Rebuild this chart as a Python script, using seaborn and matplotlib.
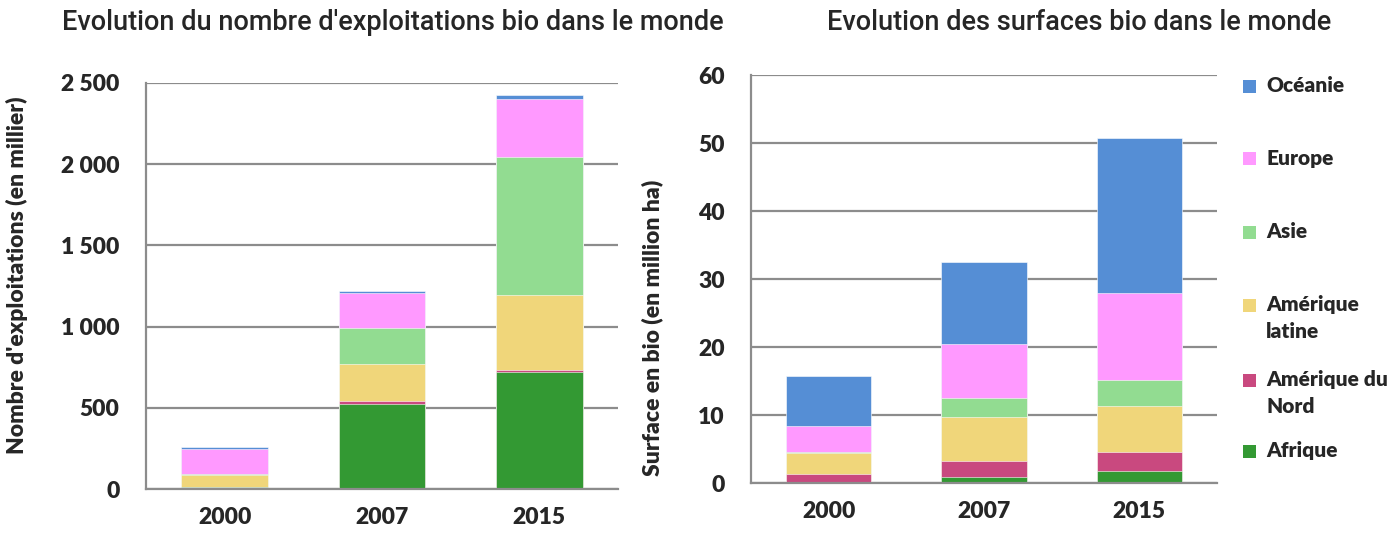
import numpy as np
import pandas as pd
import matplotlib
matplotlib.use("Agg")
import matplotlib.pyplot as plt
import matplotlib.patches as mpatches
import seaborn as sns
from matplotlib.ticker import FuncFormatter

# Data
years = ['2000', '2007', '2015']
regions = ['Afrique', 'Amérique du Nord', 'Amérique latine', 'Asie', 'Europe', 'Océanie']
legend_labels = {'Afrique': 'Afrique', 'Amérique du Nord': 'Amérique du\nNord',
                 'Amérique latine': 'Amérique\nlatine', 'Asie': 'Asie',
                 'Europe': 'Europe', 'Océanie': 'Océanie'}

# number of farms (thousands)
farms_afrique = [12, 521, 722]
farms_am_nord = [1, 20, 10]
farms_am_latine = [72, 228, 463]
farms_asie = [8, 222, 848]
farms_europe = [156, 214, 356]
farms_oceanie = [12, 12, 25]

# organic surfaces (million ha)
surf_afrique = [0.1, 0.9, 1.7]
surf_am_nord = [1.2, 2.3, 2.8]
surf_am_latine = [3.1, 6.5, 6.8]
surf_asie = [0.1, 2.8, 3.9]
surf_europe = [3.9, 7.9, 12.7]
surf_oceanie = [7.4, 12.1, 22.8]

colors = {'Océanie': '#558ED5', 'Europe': '#FF99FF', 'Asie': '#92DC91',
          'Amérique latine': '#F0D67A', 'Amérique du Nord': '#C9497F',
          'Afrique': '#339933'}

farms = [farms_afrique, farms_am_nord, farms_am_latine, farms_asie, farms_europe, farms_oceanie]
surfs = [surf_afrique, surf_am_nord, surf_am_latine, surf_asie, surf_europe, surf_oceanie]


def stacked_frame(series):
    df = pd.DataFrame(np.array(series).T, columns=regions)
    cum = df[regions].cumsum(axis=1)
    cum['Année'] = years
    return cum


sns.set_style("white")
plt.rcParams['font.family'] = ['Lato', 'DejaVu Sans']

W, H = 1395, 535
fig = plt.figure(figsize=(W / 100, H / 100), dpi=100)
ax1 = fig.add_axes([146 / W, 1 - 489 / H, 472 / W, 406 / H])
ax2 = fig.add_axes([751 / W, 1 - 483 / H, 466 / W, 408 / H])

grid_col = '#8c8c8c'


def draw(ax, series, ymax, ystep, ylabel, fmt, label_xy):
    cum = stacked_frame(series)
    # draw from the top cumulative series down so lower layers cover higher ones
    for reg in regions[::-1]:
        sns.barplot(data=cum, x='Année', y=reg, color=colors[reg], width=0.55,
                    ax=ax, saturation=1, edgecolor='white', linewidth=0.4)
    ax.set_xlim(-0.5, 2.5)
    ax.set_ylim(0, ymax)
    ax.set_yticks(np.arange(0, ymax + 1, ystep))
    ax.yaxis.set_major_formatter(FuncFormatter(fmt))
    ax.set_axisbelow(True)
    ax.yaxis.grid(True, color=grid_col, linewidth=1.6)
    for s in ['top', 'right']:
        ax.spines[s].set_visible(False)
    for s in ['left', 'bottom']:
        ax.spines[s].set_color(grid_col)
        ax.spines[s].set_linewidth(1.6)
    ax.set_xticks(range(len(years)))
    ax.set_xticklabels(years)
    ax.set_xticks([-0.5, 0.5, 1.5, 2.5], minor=True)
    ax.tick_params(axis='x', which='major', length=0, pad=13, labelsize=16.5)
    ax.tick_params(axis='x', which='minor', length=6, width=1.6, color=grid_col)
    ax.tick_params(axis='y', direction='inout', length=14, width=1.6, color=grid_col,
                   labelsize=16.5, pad=12)
    for lab in ax.get_xticklabels() + ax.get_yticklabels():
        lab.set_fontweight('heavy')
    ax.set_xlabel('')
    ax.set_ylabel(ylabel, fontsize=16.5, fontweight='heavy')
    ax.yaxis.label.set_verticalalignment('center')
    ax.yaxis.set_label_coords(*label_xy)


draw(ax1, farms, 2500, 500, "Nombre d'exploitations (en millier)",
     lambda v, p: f"{int(v):,}".replace(',', ' '), (-0.273, 0.527))
draw(ax2, surfs, 60, 10, "Surface en bio (en million ha)",
     lambda v, p: f"{int(v)}", (-0.2124, 0.38))

fig.text(393 / W, 1 - 22 / H, "Evolution du nombre d'exploitations bio dans le monde",
         ha='center', va='center', fontsize=19.5, family='Roboto', fontweight='medium')
fig.text(1079 / W, 1 - 22 / H, "Evolution des surfaces bio dans le monde",
         ha='center', va='center', fontsize=19.5, family='Roboto', fontweight='medium')

# legend, drawn by hand so the key aligns with the first line of each label
legend_order = regions[::-1]
legend_rows = [86, 159, 232, 305, 380, 451]
for reg, ypx in zip(legend_order, legend_rows):
    fig.patches.append(mpatches.Rectangle((1243 / W, 1 - (ypx + 6.5) / H), 13 / W, 13 / H,
                                          transform=fig.transFigure,
                                          facecolor=colors[reg], edgecolor='none'))
    fig.text(1266 / W, 1 - (ypx - 10) / H, legend_labels[reg], ha='left', va='top',
             fontsize=15, fontweight='heavy', linespacing=1.5)

fig.savefig('out.png', dpi=100)
